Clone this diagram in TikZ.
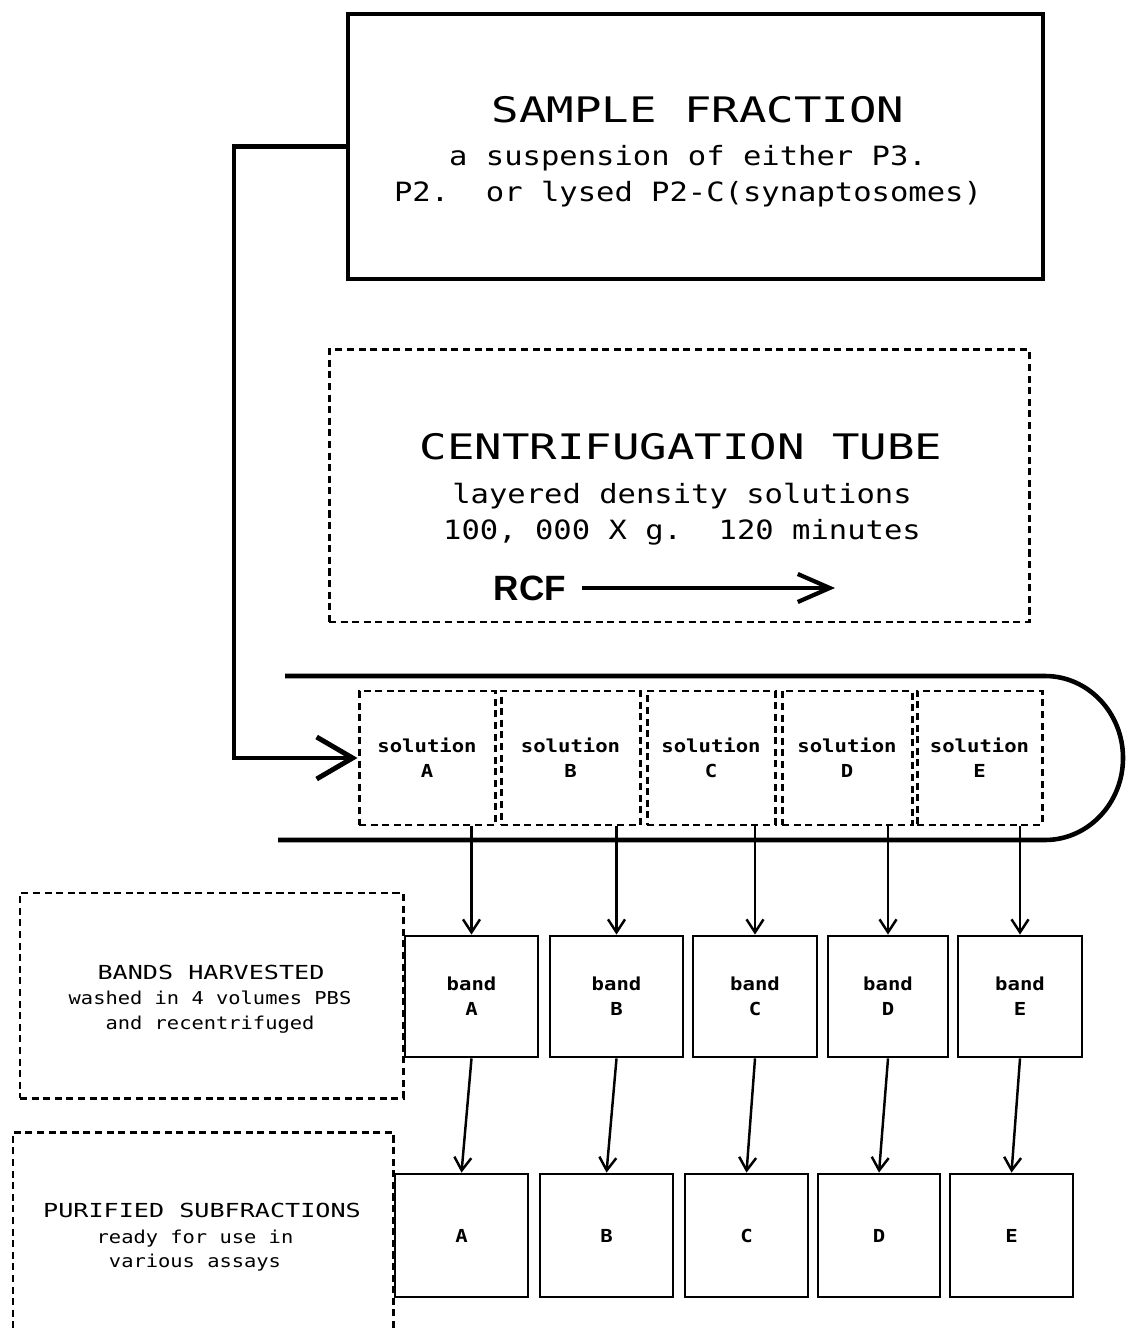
\documentclass[tikz,border=0pt]{standalone}
\usepackage{fontspec}
\setmonofont{DejaVu Sans Mono}
\setsansfont{Liberation Sans}
\newfontfamily\printtype{DejaVu Sans Mono}[FakeStretch=1.3]
\newfontfamily\plaintype{DejaVu Sans Mono}[FakeStretch=1.15]
\usetikzlibrary{arrows.meta}

\newcommand{\headtype}{\printtype\fontsize{10}{12}\selectfont}
\newcommand{\bodytype}{\plaintype\fontsize{7.55}{10.4}\selectfont}
\newcommand{\midtype}{\printtype\fontsize{5.5}{7}\selectfont}
\newcommand{\tinytype}{\plaintype\fontsize{5.05}{7}\selectfont}
\newcommand{\celltype}{\plaintype\bfseries\fontsize{5.1}{7.2}\selectfont}

\begin{document}
\begin{tikzpicture}[
  mainbox/.style={draw, line width=1.4pt},
  dotbox/.style={draw, line width=0.85pt, dash pattern=on 2pt off 1.3pt},
  solbox/.style={dotbox, minimum height=1.34cm, align=center, font=\celltype},
  bandbox/.style={draw, line width=0.8pt, minimum height=1.21cm, align=center, font=\celltype},
  fracbox/.style={draw, line width=0.8pt, minimum height=1.23cm, font=\celltype},
  flow/.style={-{Straight Barb[length=0.13cm,width=0.17cm]}, line width=0.7pt},
  feed/.style={-{Straight Barb[length=0.36cm,width=0.42cm]}, line width=1.4pt},
  rcfarrow/.style={-{Straight Barb[length=0.32cm,width=0.28cm]}, line width=1.2pt}
]
\useasboundingbox (0,0) rectangle (11.25,-13.32);

% sample
\node[mainbox, minimum width=6.95cm, minimum height=2.65cm] (sample) at (6.955,-1.465) {};
\node[font=\headtype] (sampletitle) at (6.98,-1.10) {SAMPLE FRACTION};
\node[font=\bodytype, align=center] (sampletext) at (6.88,-1.76) {a suspension of either P3.\\P2.\ \ or lysed P2-C(synaptosomes)};

% centrifugation
\node[dotbox, minimum width=7.0cm, minimum height=2.72cm] (tube) at (6.79,-4.86) {};
\node[font=\headtype] (tubetitle) at (6.81,-4.47) {CENTRIFUGATION TUBE};
\node[font=\bodytype, align=center] (tubetext) at (6.82,-5.14) {layered density solutions\\100, 000 X g.\ \ 120 minutes};
\node[font=\sffamily\bfseries\fontsize{10}{12}\selectfont, inner sep=0.15cm] (rcf) at (5.30,-5.88) {RCF};
\coordinate (rcfhead) at (8.35,-5.88);
\draw[rcfarrow] (rcf) -- (rcfhead);

\draw[line width=1.3pt] (2.85,-6.76) -- (10.45,-6.76) arc[start angle=90, end angle=-90, x radius=0.78cm, y radius=0.82cm] -- (2.78,-8.40);

\node[solbox, minimum width=1.36cm] (sA) at (4.27,-7.58) {solution\\A};
\node[solbox, minimum width=1.39cm] (sB) at (5.705,-7.58) {solution\\B};
\node[solbox, minimum width=1.28cm] (sC) at (7.11,-7.58) {solution\\C};
\node[solbox, minimum width=1.30cm] (sD) at (8.47,-7.58) {solution\\D};
\node[solbox, minimum width=1.25cm] (sE) at (9.795,-7.58) {solution\\E};

\coordinate (elbow) at (2.34,-1.465);
\draw[feed] (sample.west) -- (elbow) |- (sA.west);

% bands
\node[dotbox, minimum width=3.83cm, minimum height=2.05cm] (harvest) at (2.115,-9.955) {};
\node[font=\midtype] (harvesttitle) at (2.11,-9.72) {BANDS HARVESTED};
\node[font=\tinytype, align=center] (harvesttext) at (2.10,-10.12) {washed in 4 volumes PBS\\and recentrifuged};

\node[bandbox, minimum width=1.33cm] (bA) at (4.715,-9.965) {band\\A};
\node[bandbox, minimum width=1.33cm] (bB) at (6.165,-9.965) {band\\B};
\node[bandbox, minimum width=1.24cm] (bC) at (7.55,-9.965) {band\\C};
\node[bandbox, minimum width=1.20cm] (bD) at (8.88,-9.965) {band\\D};
\node[bandbox, minimum width=1.24cm] (bE) at (10.20,-9.965) {band\\E};

\draw[flow] (sA.south -| bA.north) -- (bA.north);
\draw[flow] (sB.south -| bB.north) -- (bB.north);
\draw[flow] (sC.south -| bC.north) -- (bC.north);
\draw[flow] (sD.south -| bD.north) -- (bD.north);
\draw[flow] (sE.south -| bE.north) -- (bE.north);

% subfractions
\node[dotbox, minimum width=3.80cm, minimum height=2.8cm] (purified) at (2.03,-12.72) {};
\node[font=\midtype] (purifiedtitle) at (2.02,-12.10) {PURIFIED SUBFRACTIONS};
\node[font=\tinytype, align=center] (purifiedtext) at (1.95,-12.505) {ready for use in\\various assays};

\node[fracbox, minimum width=1.33cm] (fA) at (4.615,-12.355) {A};
\node[fracbox, minimum width=1.33cm] (fB) at (6.065,-12.355) {B};
\node[fracbox, minimum width=1.23cm] (fC) at (7.465,-12.355) {C};
\node[fracbox, minimum width=1.22cm] (fD) at (8.79,-12.355) {D};
\node[fracbox, minimum width=1.23cm] (fE) at (10.115,-12.355) {E};

\draw[flow] (bA.south) -- (fA.north);
\draw[flow] (bB.south) -- (fB.north);
\draw[flow] (bC.south) -- (fC.north);
\draw[flow] (bD.south) -- (fD.north);
\draw[flow] (bE.south) -- (fE.north);

\end{tikzpicture}
\end{document}
